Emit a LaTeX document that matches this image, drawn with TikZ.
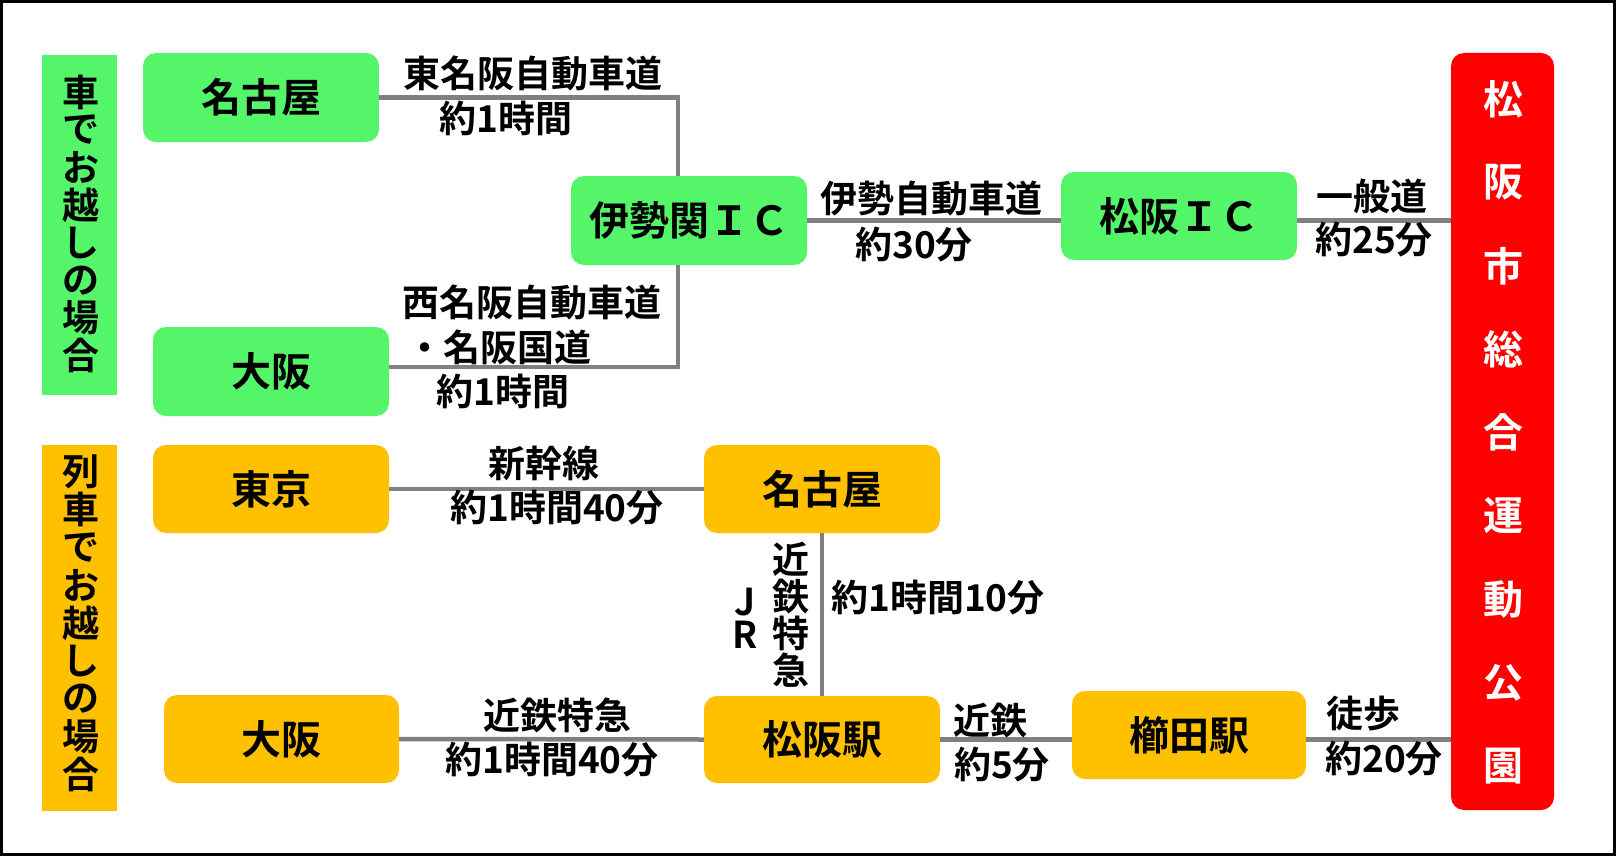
\documentclass[tikz,border=0pt]{standalone}
\usepackage{fontspec}
\setmainfont{Noto Sans CJK JP}[BoldFont={Noto Sans CJK JP Bold}]
\usetikzlibrary{calc}
\definecolor{cgreen}{RGB}{85,245,106}
\definecolor{corange}{RGB}{255,192,0}
\definecolor{cred}{RGB}{255,0,0}
\definecolor{cgray}{RGB}{128,128,128}
\tikzset{
  boxtext/.style={font=\fontsize{40}{44}\selectfont\bfseries, inner sep=0pt},
  gbox/.style={boxtext, fill=cgreen, rounded corners=13pt, minimum width=236pt, minimum height=89pt},
  obox/.style={boxtext, fill=corange, rounded corners=13pt, minimum width=236pt, minimum height=88pt},
  lbl/.style={font=\fontsize{37}{40}\selectfont\bfseries, inner sep=0pt},
  vch/.style={font=\fontsize{37}{40}\selectfont\bfseries, inner sep=0pt},
  conn/.style={draw=cgray, line width=4.5pt},
}
\begin{document}
\begin{tikzpicture}[x=1pt,y=-1pt]
\useasboundingbox (0,0) rectangle (1616,856);
\fill[white] (0,0) rectangle (1616,856);
\draw[line width=3pt] (1.5,1.5) rectangle (1614.5,854.5);

% side labels
\node[fill=cgreen, minimum width=75pt, minimum height=340pt, inner sep=0pt] (carlbl) at (79.5,225) {};
\node[fill=corange, minimum width=75pt, minimum height=366pt, inner sep=0pt] (trainlbl) at (79.5,628) {};
\foreach \c [count=\i] in {車,で,お,越,し,の,場,合}
  \node[vch] (cv\i) at (81,{92+37.7*(\i-1)}) {\c};
\foreach \c [count=\i] in {列,車,で,お,越,し,の,場,合}
  \node[vch] (tv\i) at (81,{472+37.75*(\i-1)}) {\c};

% destination
\node[fill=cred, rounded corners=13pt, minimum width=103pt, minimum height=757pt, inner sep=0pt] (park) at (1502.5,431.5) {};
\foreach \c [count=\i] in {松,阪,市,総,合,運,動,公,園}
  \node[boxtext, text=white] (pv\i) at (1503,{99+83.4*(\i-1)}) {\c};

% car boxes
\node[gbox] (gn) at (261,97.5) {名古屋};
\node[gbox] (go) at (271,371.5) {大阪};
\node[gbox] (ise) at (689,220.5) {伊勢関ＩＣ};
\node[gbox, minimum height=88pt] (mic) at (1179,216) {松阪ＩＣ};

% train boxes
\node[obox] (tk) at (271,489) {東京};
\node[obox] (tn) at (822,489) {名古屋};
\node[obox, minimum width=235pt] (to) at (281.5,739) {大阪};
\node[obox, minimum height=87pt] (ms) at (822,739.5) {松阪駅};
\node[obox, minimum width=234pt] (ks) at (1189,735) {櫛田駅};

% connectors (car)
\draw[conn] (gn.east) -| ([xshift=-11pt]ise.north);
\draw[conn] ([yshift=4.5pt]go.east) -| ([xshift=-11pt]ise.south);
\draw[conn] (ise.east) -- (ise.east -| mic.west);
\draw[conn] (mic.east |- ise.east) -- (ise.east -| park.west);

% connectors (train)
\draw[conn] (tk.east) -- (tn.west);
\draw[conn] (tn.south) -- (ms.north);
\draw[conn] (to.east) -- (ms.west);
\draw[conn] (ms.east) -- (ms.east -| ks.west);
\draw[conn] (ks.east |- ms.east) -- (ms.east -| park.west);

% labels (car)
\node[lbl] (l1) at (533,73) {東名阪自動車道};
\node[lbl] (l2) at (506,118) {約1時間};
\node[lbl] (l3) at (532,302) {西名阪自動車道};
\node[lbl] (l4) at (499,347) {・名阪国道};
\node[lbl] (l5) at (503,391) {約1時間};
\node[lbl] (l6) at (931,199) {伊勢自動車道};
\node[lbl] (l7) at (914,245) {約30分};
\node[lbl] (l8) at (1372,196) {一般道};
\node[lbl] (l9) at (1374,240) {約25分};

% labels (train)
\node[lbl] (m1) at (544,463) {新幹線};
\node[lbl] (m2) at (557,508) {約1時間40分};
\node[font=\fontsize{37}{33}\selectfont\bfseries, inner sep=0pt, align=center] (jr) at (745,618) {J\\R};
\foreach \c [count=\i] in {近,鉄,特,急}
  \node[vch] (kv\i) at (791,{559+37*(\i-1)}) {\c};
\node[lbl] (m3) at (938,598) {約1時間10分};
\node[lbl] (m4) at (557,715) {近鉄特急};
\node[lbl] (m5) at (552,760) {約1時間40分};
\node[lbl] (m6) at (990,720) {近鉄};
\node[lbl] (m7) at (1002,765) {約5分};
\node[lbl] (m8) at (1363,714) {徒歩};
\node[lbl] (m9) at (1384,759) {約20分};
\end{tikzpicture}
\end{document}
